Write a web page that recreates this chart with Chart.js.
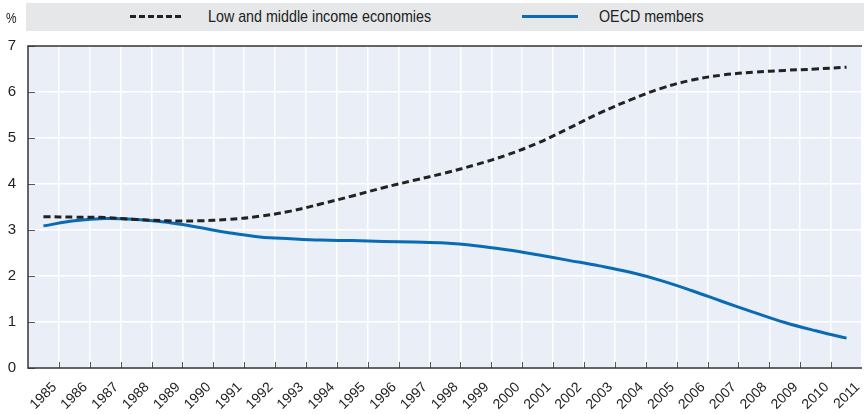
<!DOCTYPE html>
<html>
<head>
<meta charset="utf-8">
<script src="https://cdn.jsdelivr.net/npm/chart.js@4.4.1/dist/chart.umd.min.js"></script>
<style>
  body { margin: 0; background: #fff; font-family: "Liberation Sans", Arial, sans-serif; }
  #wrap { position: relative; width: 864px; height: 414px; }
  #legend {
    position: absolute; left: 26px; top: 3px; width: 838px; height: 28px;
    background: #e6e7e9; font-size: 17px; color: #222;
  }
  .item { position: absolute; top: 0; height: 28px; line-height: 28px; white-space: nowrap; transform: scaleX(0.84); transform-origin: 0 50%; }
  .swatch { position: absolute; top: 12px; height: 3px; }
  #unit { position: absolute; left: 6px; top: 10px; font-size: 14px; color: #222; transform: scaleX(0.85); transform-origin: 0 50%; }
</style>
</head>
<body>
<div id="wrap">
  <canvas id="chart"></canvas>
  <div id="legend">
    <div class="swatch" style="left:104px;width:53px;background:repeating-linear-gradient(90deg,#222 0 6px,transparent 6px 9px);"></div>
    <div class="item" style="left:182px;">Low and middle income economies</div>
    <div class="swatch" style="left:496px;width:56px;background:#0a6bb5;"></div>
    <div class="item" style="left:573px;">OECD members</div>
  </div>
  <div id="unit">%</div>
</div>
<script>
const years = ["1985","1986","1987","1988","1989","1990","1991","1992","1993","1994","1995","1996","1997","1998","1999","2000","2001","2002","2003","2004","2005","2006","2007","2008","2009","2010","2011"];
const lowMiddle = [3.29, 3.28, 3.27, 3.23, 3.20, 3.20, 3.23, 3.30, 3.41, 3.57, 3.74, 3.92, 4.08, 4.24, 4.42, 4.63, 4.89, 5.21, 5.54, 5.83, 6.08, 6.26, 6.37, 6.43, 6.47, 6.50, 6.54];
const oecd = [3.09, 3.20, 3.25, 3.23, 3.17, 3.06, 2.94, 2.85, 2.81, 2.78, 2.77, 2.75, 2.74, 2.72, 2.66, 2.57, 2.46, 2.34, 2.22, 2.08, 1.90, 1.68, 1.44, 1.21, 0.99, 0.81, 0.65];
const yTicks = [0, 1, 2, 3, 4, 5, 6, 7];

const FONT = '"Liberation Sans", Arial, sans-serif';

// plot background, frame and the short inside tick marks
const frame = {
  id: "frame",
  beforeDraw(chart) {
    const { ctx, chartArea: a } = chart;
    ctx.save();
    ctx.fillStyle = "#e9eef7";
    ctx.fillRect(a.left, a.top, a.right - a.left, a.bottom - a.top);
    ctx.restore();
  },
  afterDatasetsDraw(chart) {
    const { ctx, chartArea: a, scales } = chart;
    ctx.save();
    ctx.strokeStyle = "#555";
    ctx.lineWidth = 1;
    yTicks.forEach((v) => {
      const y = Math.round(scales.y.getPixelForValue(v)) + 0.5;
      ctx.beginPath(); ctx.moveTo(a.left, y); ctx.lineTo(a.left + 7, y); ctx.stroke();
    });
    for (let i = 1; i < years.length; i++) {
      const x = Math.round((scales.x.getPixelForValue(i - 1) + scales.x.getPixelForValue(i)) / 2) + 0.5;
      ctx.beginPath(); ctx.moveTo(x, a.bottom); ctx.lineTo(x, a.bottom - 6); ctx.stroke();
    }
    ctx.strokeStyle = "#333";
    ctx.lineWidth = 1.5;
    ctx.beginPath();
    ctx.moveTo(a.right, a.top); ctx.lineTo(a.left, a.top);
    ctx.lineTo(a.left, a.bottom); ctx.lineTo(a.right, a.bottom);
    ctx.stroke();
    ctx.restore();
  },
};

new Chart(document.getElementById("chart"), {
  type: "line",
  data: {
    labels: years,
    datasets: [
      {
        label: "Low and middle income economies",
        data: lowMiddle,
        borderColor: "#222222",
        borderWidth: 3,
        borderDash: [7, 4],
        pointRadius: 0,
        tension: 0.4,
        fill: false,
      },
      {
        label: "OECD members",
        data: oecd,
        borderColor: "#0a6bb5",
        borderWidth: 3,
        pointRadius: 0,
        tension: 0.4,
        fill: false,
      },
    ],
  },
  options: {
    responsive: true,
    maintainAspectRatio: false,
    animation: false,
    layout: { padding: { top: 46, right: 2, left: 0, bottom: 0 } },
    plugins: { legend: { display: false }, tooltip: { enabled: false } },
    scales: {
      x: {
        offset: true,
        grid: { color: "#ffffff", lineWidth: 1.5, offset: true, drawTicks: false },
        border: { display: false },
        ticks: {
          color: "#222",
          font: { family: FONT, size: 14 },
          maxRotation: 45,
          minRotation: 45,
          autoSkip: false,
          padding: 11,
          labelOffset: 11,
        },
        afterFit(scale) {
          scale.height = 46;
          scale.paddingLeft = 0;
          scale.paddingRight = 0;
        },
      },
      y: {
        min: 0,
        max: 7,
        afterBuildTicks(scale) { scale.ticks = yTicks.map((v) => ({ value: v })); },
        grid: { color: "#ffffff", lineWidth: 1.5, drawTicks: false },
        border: { display: false },
        ticks: { color: "#222", font: { family: FONT, size: 15 }, padding: 12 },
        afterFit(scale) { scale.width = 28; },
      },
    },
  },
  plugins: [frame],
});
</script>
</body>
</html>
